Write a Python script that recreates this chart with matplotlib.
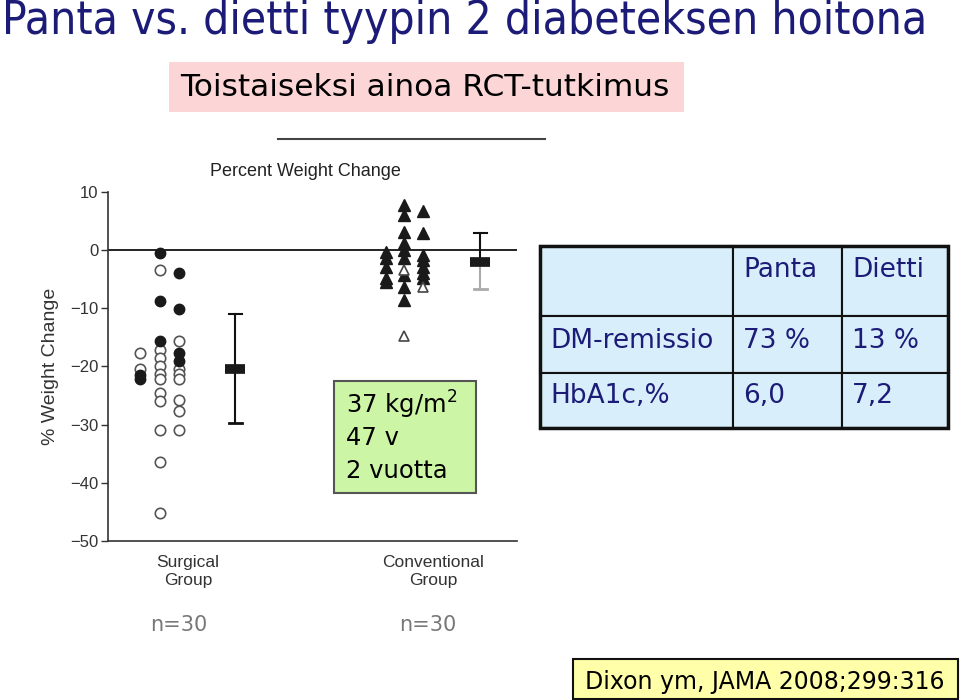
import matplotlib
matplotlib.use("Agg")
import matplotlib.pyplot as plt
from matplotlib.patches import Rectangle
from matplotlib.lines import Line2D

# data
surg_cols = [0.78, 1.27, 1.74]
surg_filled = [[-22.2, -21.5], [-0.5, -8.8, -15.7], [-4.0, -10.2, -17.6, -19.0]]
surg_open = [[-17.6, -20.5],
             [-3.4, -17.2, -18.6, -20.0, -21.3, -22.1, -24.6, -25.9, -30.9, -36.4, -45.2],
             [-15.7, -20.5, -21.3, -22.1, -25.7, -27.6, -30.9]]
conv_cols = [6.80, 7.24, 7.70]
conv_filled = [[-0.3, -1.4, -2.9, -4.8, -5.5],
               [7.8, 6.0, 3.1, 1.2, 0.0, -1.4, -4.3, -6.4, -8.6],
               [6.8, 2.9, -0.9, -1.7, -2.9, -4.0, -4.8]]
conv_open = [[], [-3.4, -14.7], [-6.4]]
err_x = [3.11, 9.10]
err_mean = [-20.4, -2.1]
err_lo = [-29.7, -6.7]
err_hi = [-11.0, 2.9]
group_pos = [1.96, 7.95]
group_labels = ["Surgical\nGroup", "Conventional\nGroup"]

table_rows = [["", "Panta", "Dietti"],
              ["DM-remissio", "73 %", "13 %"],
              ["HbA1c,%", "6,0", "7,2"]]
box_lines = ["37 kg/m$^2$", "47 v", "2 vuotta"]

W, H = 960, 700
fig = plt.figure(figsize=(9.6, 7), dpi=100)
navy = "#1c1c78"
comic = ["DejaVu Sans"]


def fx(px):
    return px / W


def fy(py):
    return 1 - py / H


# title
fig.text(fx(2), fy(22), "Panta vs. dietti tyypin 2 diabeteksen hoitona", color=navy,
         fontsize=33, family="DejaVu Sans", fontstretch="condensed", va="center", ha="left")

# pink subtitle box
fig.add_artist(Rectangle((fx(169), fy(112)), fx(515), 50 / H, transform=fig.transFigure,
                         facecolor="#fcd6d6", edgecolor="none"))
fig.text(fx(180), fy(88), "Toistaiseksi ainoa RCT-tutkimus", fontsize=22.5, family=comic,
         va="center", ha="left", color="black")

# stray scan line
fig.add_artist(Line2D([fx(278), fx(545)], [fy(139), fy(139)], transform=fig.transFigure,
                      color="#444444", lw=1.5))
fig.text(fx(210), fy(171), "Percent Weight Change", fontsize=13, family=["Liberation Sans"],
         va="center", ha="left", color="#222222")

# scatter axes
ax = fig.add_axes([fx(108), fy(541), fx(409), (541 - 192) / H])
ax.set_xlim(0, 10)
ax.set_ylim(-50, 10)
for s in ["top", "right"]:
    ax.spines[s].set_visible(False)
ax.spines["left"].set_color("#333333")
ax.spines["bottom"].set_color("#333333")
ax.spines["left"].set_linewidth(1.2)
ax.spines["bottom"].set_linewidth(1.2)
ax.axhline(0, color="#222222", lw=1.4)
ax.set_yticks(range(-50, 11, 10))
ax.set_yticklabels(["\u221250", "\u221240", "\u221230", "\u221220", "\u221210", "0", "10"])
ax.tick_params(axis="y", length=5, width=1, color="#333333", labelsize=12,
               labelcolor="#333333", pad=2)
ax.set_xticks(group_pos)
ax.set_xticklabels(group_labels, fontsize=12.5, color="#333333", linespacing=1.3)
ax.tick_params(axis="x", length=0, pad=10)
for lab in ax.get_xticklabels() + ax.get_yticklabels():
    lab.set_family("Liberation Sans")
ax.set_ylabel("% Weight Change", fontsize=14, color="#333333", family="Liberation Sans",
              labelpad=8)

for x, ys in zip(surg_cols, surg_open):
    ax.plot([x] * len(ys), ys, "o", ms=7.5, mfc="white", mec="#555555", mew=1.2, ls="none")
for x, ys in zip(surg_cols, surg_filled):
    ax.plot([x] * len(ys), ys, "o", ms=7.5, mfc="#1a1a1a", mec="#1a1a1a", ls="none")
for x, ys in zip(conv_cols, conv_filled):
    ax.plot([x] * len(ys), ys, "^", ms=8, mfc="#1a1a1a", mec="#1a1a1a", ls="none")
for x, ys in zip(conv_cols, conv_open):
    ax.plot([x] * len(ys), ys, "^", ms=7, mfc="white", mec="#444444", mew=1.2, ls="none")

lo_colors = ["#111111", "#aaaaaa"]
for x, m, lo, hi, lc in zip(err_x, err_mean, err_lo, err_hi, lo_colors):
    ax.plot([x, x], [m, hi], color="#111111", lw=1.5)
    ax.plot([x, x], [lo, m], color=lc, lw=1.5)
    ax.plot([x - 0.16, x + 0.16], [hi, hi], color="#111111", lw=1.5)
    ax.plot([x - 0.16, x + 0.16], [lo, lo], color=lc, lw=2)
    ax.plot([x - 0.25, x + 0.25], [m, m], color="#1a1a1a", lw=7, solid_capstyle="butt")

# green info box
fig.add_artist(Rectangle((fx(334), fy(493)), fx(142), 112 / H, transform=fig.transFigure,
                         facecolor="#ccf5a6", edgecolor="#555555", lw=1.5))
for i, t in enumerate(box_lines):
    fig.text(fx(346), fy(405 + i * 33), t, fontsize=17.5, family=comic, va="center",
             ha="left", color="black")

# table
col_edges = [540, 733, 842, 948]
row_edges = [246, 316, 373, 428]
for r, row in enumerate(table_rows):
    for c, val in enumerate(row):
        x0, x1 = col_edges[c], col_edges[c + 1]
        y0, y1 = row_edges[r], row_edges[r + 1]
        fig.add_artist(Rectangle((fx(x0), fy(y1)), fx(x1 - x0), (y1 - y0) / H,
                                 transform=fig.transFigure, facecolor="#d8effb",
                                 edgecolor="#111111", lw=1.5))
        ty = (y0 + 24) if r == 0 else (y0 + y1) / 2 - 4
        fig.text(fx(x0 + 10), fy(ty), val, fontsize=19, family=comic, va="center",
                 ha="left", color=navy)
fig.add_artist(Rectangle((fx(540), fy(428)), fx(408), 182 / H, transform=fig.transFigure,
                         facecolor="none", edgecolor="#111111", lw=2.5))

# n labels
fig.text(fx(150), fy(625), "n=30", fontsize=15, family=comic, color="#777777", va="center")
fig.text(fx(399), fy(625), "n=30", fontsize=15, family=comic, color="#777777", va="center")

# citation
fig.add_artist(Rectangle((fx(573), fy(699)), fx(385), 40 / H, transform=fig.transFigure,
                         facecolor="#ffffaa", edgecolor="#111111", lw=1.5))
fig.text(fx(585), fy(682), "Dixon ym, JAMA 2008;299:316", fontsize=17, family=comic,
         color="black", va="center", ha="left")

fig.savefig("out.png", dpi=100)
